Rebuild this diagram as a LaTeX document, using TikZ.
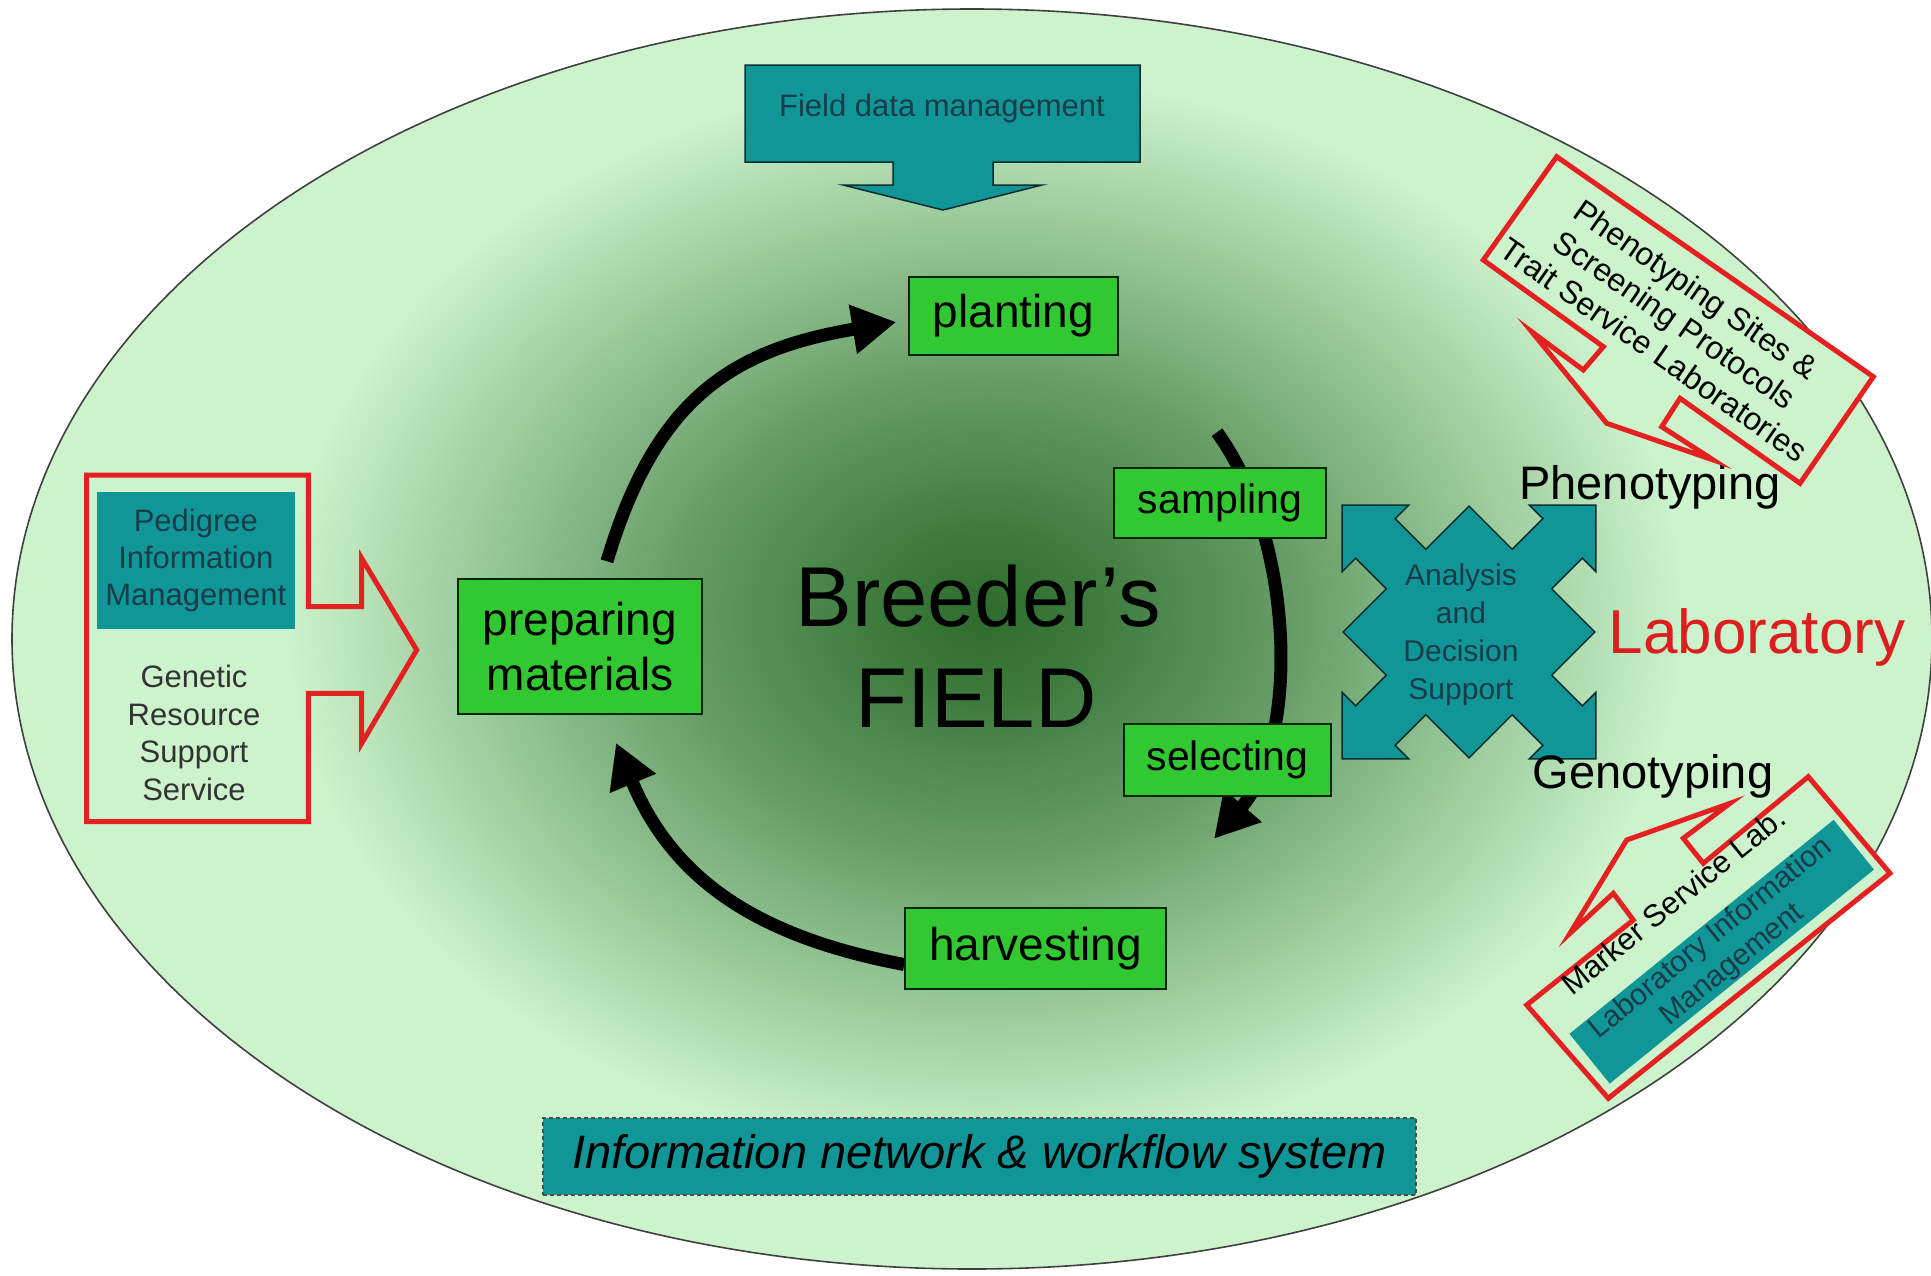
\documentclass[tikz,border=0pt]{standalone}
\usepackage{fontspec}
\setmainfont{Liberation Sans}
\usetikzlibrary{arrows.meta}

\definecolor{mint}{RGB}{204,243,204}
\definecolor{glow0}{RGB}{46,108,46}
\definecolor{glow1}{RGB}{62,124,62}
\definecolor{glow2}{RGB}{102,157,102}
\definecolor{glow3}{RGB}{152,200,152}
\definecolor{tealfill}{RGB}{17,150,152}
\definecolor{boxgreen}{RGB}{50,200,50}
\definecolor{calloutred}{RGB}{228,32,32}
\definecolor{labred}{RGB}{220,30,30}
\definecolor{inktext}{RGB}{25,60,75}

% a shaded path covers the middle 50bp of the shading, so the rim of the
% shaded ellipse sits at a radius of 25bp
\pgfdeclareradialshading{fieldglow}{\pgfpoint{0bp}{0bp}}{%
  color(0bp)=(glow0); color(4bp)=(glow1); color(11bp)=(glow2);
  color(18bp)=(glow3); color(25bp)=(mint); color(50bp)=(mint)}

\pgfdeclarelayer{backdrop}
\pgfdeclarelayer{links}
\pgfsetlayers{backdrop,links,main}

\tikzset{
  stage/.style={draw=black!85!green, line width=1.5pt, fill=boxgreen,
    inner sep=0pt, align=center, font=\fontsize{46pt}{55pt}\selectfont},
  smallstage/.style={stage, font=\fontsize{41pt}{48pt}\selectfont},
  tealshape/.style={draw=black!70!tealfill, line width=1.5pt, fill=tealfill},
  callout/.style={draw=calloutred, line width=5pt, line join=miter},
  cyclearrow/.style={line width=13pt, black,
    -{Triangle[length=44pt,width=47pt]}},
  sidelabel/.style={anchor=base, font=\fontsize{47pt}{54pt}\selectfont},
  infotext/.style={text=inktext, align=center}
}

\begin{document}
\begin{tikzpicture}[x=1pt,y=-1pt]
\useasboundingbox (0,0) rectangle (1931,1275);

% field ellipse with its dark centre
\begin{pgfonlayer}{backdrop}
  \fill[white] (0,0) rectangle (1931,1275);
  \fill[mint] (972,639) ellipse [x radius=960, y radius=630];
  \shade[shading=fieldglow] (985,615) ellipse [x radius=700, y radius=540];
  \draw[line width=1.6pt, black!75] (972,639) ellipse [x radius=960, y radius=630];
\end{pgfonlayer}

% stages of the breeding cycle
\node[stage, minimum width=209pt, minimum height=78pt] (plant) at (1013.5,316) {planting};
\node[stage, minimum width=244pt, minimum height=135pt] (prep) at (580,646.5) {preparing\\materials};
\node[smallstage, minimum width=212pt, minimum height=70pt] (samp) at (1220,503) {sampling};
\node[smallstage, minimum width=207pt, minimum height=72pt] (sel) at (1227.5,760) {selecting};
\node[stage, minimum width=261pt, minimum height=81pt] (harv) at (1035.5,948.5) {harvesting};

% cycle arrows
\begin{pgfonlayer}{links}
  \draw[cyclearrow] ([xshift=27pt,yshift=17pt]prep.north)
    .. controls (655,400) and (730,350) .. ([xshift=-12pt,yshift=-6pt]plant.west);
  \draw[cyclearrow] ([xshift=-3pt,yshift=35pt]samp.north)
    .. controls (1295,540) and (1300,740) .. ([xshift=-13.5pt,yshift=-42pt]sel.south);
  \draw[cyclearrow] ([yshift=-16pt]harv.west)
    .. controls (758,937) and (673,880) .. ([xshift=36pt,yshift=-28pt]prep.south);
\end{pgfonlayer}

% title in the middle
\node[anchor=base, font=\fontsize{85pt}{100pt}\selectfont] (breeder) at (978,626) {Breeder’s};
\node[anchor=base, font=\fontsize{85pt}{100pt}\selectfont] (field) at (976,727) {FIELD};

% field data management arrow
\draw[tealshape] (745,65) -- (1140,65) -- (1140,162) -- (993,162) -- (993,185)
  -- (1042,185) -- (943,210) -- (843,185) -- (893,185) -- (893,162) -- (745,162) -- cycle;
\node[infotext, font=\fontsize{31pt}{36pt}\selectfont] (fdm) at (942,108) {Field data management};

% analysis and decision support star arrow
\begin{scope}[shift={(1469,632)}, scale=1.04]
  \draw[tealshape] (0,-121) -- (41.5,-79.5) -- (71,-109) -- (58,-122) -- (122,-122)
    -- (122,-58) -- (109,-71) -- (79.5,-41.5) -- (121,0)
    -- (79.5,41.5) -- (109,71) -- (122,58) -- (122,122) -- (58,122) -- (71,109)
    -- (41.5,79.5) -- (0,121)
    -- (-41.5,79.5) -- (-71,109) -- (-58,122) -- (-122,122) -- (-122,58) -- (-109,71)
    -- (-79.5,41.5) -- (-121,0)
    -- (-79.5,-41.5) -- (-109,-71) -- (-122,-58) -- (-122,-122) -- (-58,-122)
    -- (-71,-109) -- (-41.5,-79.5) -- cycle;
\end{scope}
\node[infotext, font=\fontsize{30pt}{38pt}\selectfont] (ads) at (1461,635) {Analysis\\and\\Decision\\Support};

% laboratory side
\node[sidelabel] (pheno) at (1650,499) {Phenotyping};
\node[sidelabel] (geno) at (1653,788) {Genotyping};
\node[anchor=base, text=labred, font=\fontsize{62pt}{70pt}\selectfont] (lab) at (1757,653) {Laboratory};

% phenotyping callout
\draw[callout, fill=mint] (1556.7,156.7) -- (1873.3,376.7) -- (1800,483.3) -- (1680,398.3)
  -- (1661.7,426.7) -- (1713.3,460) -- (1606.7,423.3) -- (1531.7,331.7)
  -- (1583.3,370) -- (1603.3,346.7) -- (1483.3,260) -- cycle;
\node[rotate=-34.8, align=center, font=\fontsize{32pt}{37pt}\selectfont] (sites) at (1675,319.4)
  {Phenotyping Sites \&\\Screening Protocols\\Trait Service Laboratories};

% genotyping callout
\draw[callout, fill=mint] (1526.7,1005) -- (1633.3,920) -- (1613.3,893.3) -- (1570,933.3)
  -- (1626.7,840) -- (1730,803.3) -- (1683.3,838.3) -- (1703.3,863.3)
  -- (1808.3,776.7) -- (1890,873.3) -- (1608.3,1098.3) -- cycle;
\node[rotate=39, fill=tealfill, minimum width=340pt, minimum height=64pt, inner sep=0pt,
  infotext, font=\fontsize{30pt}{34pt}\selectfont] (lims) at (1721.7,951.7)
  {Laboratory Information\\Management};
\node[rotate=39, inner sep=0pt, font=\fontsize{31pt}{36pt}\selectfont] (marker) at (1673,901) {Marker Service Lab.};

% germplasm callout on the left
\draw[callout] (86.7,475) -- (308.3,475) -- (308.3,606.7) -- (361.7,606.7) -- (361.7,558.3)
  -- (416.7,650) -- (361.7,743.3) -- (361.7,693.3) -- (308.3,693.3) -- (308.3,821.7)
  -- (86.7,821.7) -- cycle;
\node[fill=tealfill, minimum width=198pt, minimum height=137pt, inner sep=0pt, infotext,
  font=\fontsize{31pt}{37pt}\selectfont] (pim) at (195.8,560) {Pedigree\\Information\\Management};
\node[align=center, text=black!80, font=\fontsize{31pt}{37.5pt}\selectfont] (grss) at (194,733)
  {Genetic\\Resource\\Support\\Service};

% information network banner
\node[fill=tealfill, draw=black!70, line width=1.5pt, dash pattern=on 4pt off 3pt,
  minimum width=873pt, minimum height=77pt, inner sep=0pt,
  font=\fontsize{47pt}{54pt}\selectfont\itshape] (net) at (979.5,1156.5)
  {Information network \& workflow system};
\end{tikzpicture}
\end{document}
